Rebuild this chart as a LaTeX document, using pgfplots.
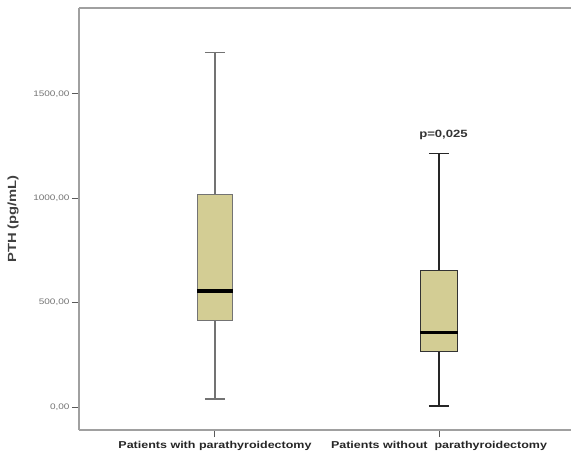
\documentclass[border=0pt]{standalone}
\usepackage{pgfplots}
\pgfplotsset{compat=1.18}
\usepackage{fontspec}
\setmainfont[FakeStretch=1.25]{Liberation Sans}
\definecolor{boxfill}{HTML}{D3CD94}
\definecolor{frame}{HTML}{A0A0A0}
\begin{document}
\begin{tikzpicture}
\begin{axis}[
  name=ax,
  scale only axis,
  width=492pt, height=422pt,
  xmin=0.393, xmax=2.589,
  ymin=-110, ymax=1912,
  axis x line*=bottom, axis y line*=left,
  x axis line style={draw=frame, line width=1.8pt},
  y axis line style={draw=frame, line width=1.8pt},
  tick align=outside,
  xtick={1,2},
  xticklabels={Patients with parathyroidectomy, Patients without\ \ parathyroidectomy},
  ytick={0,500,1000,1500},
  yticklabels={{0,00},{500,00},{1000,00},{1500,00}},
  major tick length=7pt,
  tick style={draw=black!65, line width=1pt},
  /pgf/number format/assume math mode=true,
  yticklabel style={font=\fontsize{8}{9}\selectfont, text=black!55, xshift=1pt},
  xticklabel style={font=\fontsize{10}{12}\selectfont\bfseries, text=black!85, yshift=-1pt},
  ylabel={PTH (pg/mL)},
  every axis y label/.style={at={(rel axis cs:0,0.5)}, xshift=-66pt, rotate=90, anchor=center,
    font=\fontsize{11.8}{14}\selectfont\bfseries, text=black!75},
  clip=false,
  after end axis/.code={
    \draw[frame, line width=1.8pt] (rel axis cs:0,1) -- (rel axis cs:1,1);
  },
]
% Group 1: Patients with parathyroidectomy
\addplot[black!55, line width=1.4pt, mark=none] coordinates {(1,38) (1,417)};
\addplot[black!55, line width=1.4pt, mark=none] coordinates {(1,1019) (1,1700)};
\addplot[black!55, line width=1.4pt, mark=none] coordinates {(0.955,38) (1.045,38)};
\addplot[black!55, line width=1.4pt, mark=none] coordinates {(0.955,1700) (1.045,1700)};
\addplot[draw=black!55, line width=1pt, fill=boxfill, mark=none] coordinates {(0.921,417) (1.079,417) (1.079,1019) (0.921,1019)} --cycle;
\addplot[black, line width=3.6pt, mark=none] coordinates {(0.921,556) (1.079,556)};
% Group 2: Patients without parathyroidectomy
\addplot[black!85, line width=1.4pt, mark=none] coordinates {(2,5) (2,268)};
\addplot[black!85, line width=1.4pt, mark=none] coordinates {(2,652) (2,1215)};
\addplot[black!85, line width=1.4pt, mark=none] coordinates {(1.955,5) (2.045,5)};
\addplot[black!85, line width=1.4pt, mark=none] coordinates {(1.955,1215) (2.045,1215)};
\addplot[draw=black!80, line width=1pt, fill=boxfill, mark=none] coordinates {(1.917,268) (2.083,268) (2.083,652) (1.917,652)} --cycle;
\addplot[black, line width=3.6pt, mark=none] coordinates {(1.917,358) (2.083,358)};
\node[font=\fontsize{10.5}{12}\selectfont\bfseries, text=black!80] at (axis cs:2.02,1305) {p=0,025};
\end{axis}
\pgfresetboundingbox
\useasboundingbox (-79pt,-31pt) rectangle (492pt,430pt);
\end{tikzpicture}
\end{document}
